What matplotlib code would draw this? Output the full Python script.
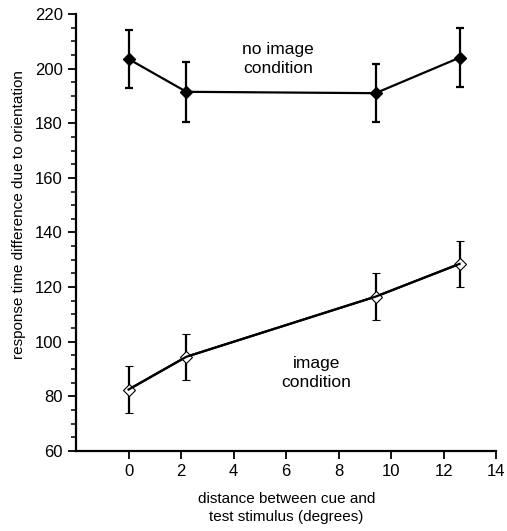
import matplotlib
matplotlib.use("Agg")
import matplotlib.pyplot as plt
from matplotlib.ticker import MultipleLocator

plt.rcParams['font.family'] = ['Liberation Sans', 'DejaVu Sans']

distance = [0.0, 2.2, 9.4, 12.6]
no_image_rt = [203.5, 191.5, 191.0, 204.0]
no_image_err = [10.5, 11.0, 10.5, 10.8]
image_rt = [82.5, 94.5, 116.5, 128.5]
image_err = [8.5, 8.5, 8.5, 8.5]

x_ticks = [0, 2, 4, 6, 8, 10, 12, 14]
y_ticks = [60, 80, 100, 120, 140, 160, 180, 200, 220]

fig = plt.figure(figsize=(5.07, 5.31), dpi=100)
ax = fig.add_axes([0.150, 0.1507, 0.829, 0.823])

ax.errorbar(distance, no_image_rt, yerr=no_image_err, color='black', lw=1.6,
            marker='D', markersize=6.5, mfc='black', mec='black',
            capsize=3, capthick=1.6, elinewidth=1.6)
ax.errorbar(distance, image_rt, yerr=image_err, color='black', lw=1.6,
            marker='D', markersize=6.5, mfc='white', mec='black', mew=0.8,
            capsize=3, capthick=1.6, elinewidth=1.6)
ax.plot(distance, image_rt, color='black', lw=1.6, zorder=3)

ax.text(5.68, 203.5, "no image\ncondition", ha='center', va='center', fontsize=12.5,
        linespacing=1.35)
ax.text(7.15, 88.6, "image\ncondition", ha='center', va='center', fontsize=12.5,
        linespacing=1.35)

ax.set_xlim(-2, 14)
ax.set_ylim(60, 220)
ax.set_xticks(x_ticks)
ax.set_yticks(y_ticks)
ax.yaxis.set_minor_locator(MultipleLocator(5))
ax.tick_params(axis='both', which='major', direction='out', length=5.5, width=1.3,
               labelsize=12, pad=4)
ax.tick_params(axis='y', which='minor', direction='out', length=3.5, width=1.1)

for s in ['top', 'right']:
    ax.spines[s].set_visible(False)
for s in ['left', 'bottom']:
    ax.spines[s].set_linewidth(1.6)

ax.set_xlabel("distance between cue and\ntest stimulus (degrees)", fontsize=11,
              labelpad=9, linespacing=1.4)
ax.set_ylabel("response time difference due to orientation", fontsize=11,
              labelpad=4)
ax.yaxis.set_label_coords(-0.118, 0.54)

fig.savefig("out.png", dpi=100)
